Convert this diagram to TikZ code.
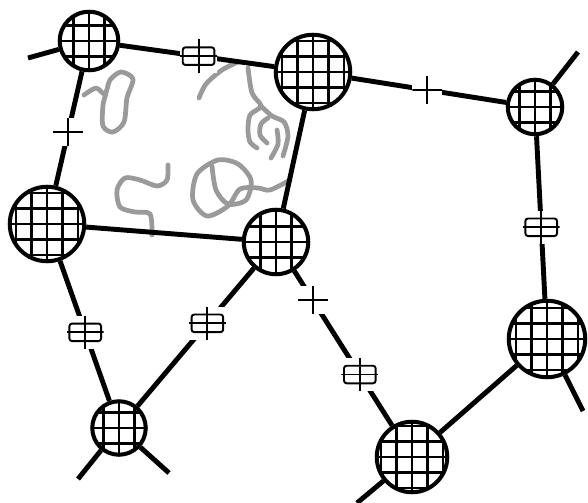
\documentclass[tikz,border=0pt]{standalone}
\usetikzlibrary{positioning}
\definecolor{squiggle}{HTML}{9A9A9A}
\tikzset{
  hub/.style={circle,draw,line width=2.3pt,fill=white,inner sep=0pt,minimum size=#1,
              path picture={\draw[line width=1.3pt,step=0.31cm]
                (path picture bounding box.south west) grid (path picture bounding box.north east);}},
  link/.style={line width=2.8pt},
  gapbox/.style={rectangle,fill=white,inner sep=0pt,minimum width=21pt,minimum height=19pt,
                 path picture={
                   \draw[line width=1.1pt,rounded corners=1.5pt]
                     ([xshift=-9pt,yshift=-5pt]path picture bounding box.center) rectangle
                     ([xshift=9pt,yshift=5pt]path picture bounding box.center);
                   \draw[line width=1.1pt]
                     (path picture bounding box.north) -- (path picture bounding box.south)
                     (path picture bounding box.west) -- (path picture bounding box.east);}},
  gapcross/.style={rectangle,fill=white,inner sep=0pt,minimum width=17pt,minimum height=16pt,
                   path picture={
                     \draw[line width=1.1pt]
                       (path picture bounding box.north) -- (path picture bounding box.south)
                       (path picture bounding box.west) -- (path picture bounding box.east);}},
  trail/.style={draw=squiggle,line width=2.7pt,line cap=round,line join=round}
}

\begin{document}
\begin{tikzpicture}[x=0.02cm,y=0.02cm]
\useasboundingbox (0,0) rectangle (588,-503);
\draw[trail] plot[smooth] coordinates {(84,-95) (96,-88) (105,-94) (110,-80) (121,-72) (133,-79)
  (127,-98) (124,-122) (113,-132) (103,-126) (103,-105) (106,-94)};
\draw[trail] plot[smooth] coordinates {(238,-62) (222,-70) (206,-84) (199,-98)};
\draw[trail] plot[smooth] coordinates {(248,-68) (252,-93) (261,-106) (250,-115) (248,-130) (250,-142) (257,-148)};
\draw[trail] plot[smooth] coordinates {(261,-106) (272,-116) (284,-122) (288,-136) (283,-156)};
\draw[trail] plot[smooth] coordinates {(268,-118) (261,-124) (260,-135) (267,-143)};
\draw[trail] plot[smooth] coordinates {(277,-130) (278,-144) (271,-158)};
\draw[trail] plot[smooth] coordinates {(168,-165) (167,-180) (157,-186) (140,-180) (125,-178) (117,-190)
  (120,-207) (135,-212) (150,-214) (152,-235)};
\draw[trail] plot[smooth] coordinates {(212,-166) (216,-190) (228,-204) (246,-200) (251,-180) (238,-164)
  (218,-160) (197,-174) (193,-200) (207,-216) (228,-206) (240,-189) (258,-188) (270,-190) (290,-180)};

\node[hub=1.17cm] (a) at (89,-41) {};
\node[hub=1.49cm] (b) at (313,-72) {};
\node[hub=1.09cm] (c) at (535,-107) {};
\node[hub=1.49cm] (d) at (47,-224) {};
\node[hub=1.29cm] (e) at (276,-242) {};
\node[hub=1.53cm] (f) at (547,-339) {};
\node[hub=1.07cm] (g) at (119,-428) {};
\node[hub=1.41cm] (h) at (412,-457) {};

\coordinate (a1) at (28,-58);
\coordinate (c1) at (578,-52);
\coordinate (f1) at (583,-411);
\coordinate (g1) at (78,-479);
\coordinate (g2) at (169,-473);
\coordinate (h1) at (357,-503);

\draw[link] (a) -- node[pos=.51,gapbox] {} (b);
\draw[link] (a) -- node[pos=.53,gapcross] {} (d);
\draw[link] (b) -- node[pos=.49,gapcross] {} (c);
\draw[link] (b) -- (e);
\draw[link] (c) -- node[pos=.56,gapbox] {} (f);
\draw[link] (d) -- (e);
\draw[link] (d) -- node[pos=.51,gapbox] {} (g);
\draw[link] (e) -- node[pos=.40,gapbox] {} (g);
\draw[link] (e) -- node[pos=.19,gapcross] {} node[pos=.67,gapbox] {} (h);
\draw[link] (f) -- (h);
\draw[link] (a) -- (a1);
\draw[link] (c) -- (c1);
\draw[link] (f) -- (f1);
\draw[link] (g) -- (g1);
\draw[link] (g) -- (g2);
\draw[link] (h) -- (h1);
\end{tikzpicture}
\end{document}
